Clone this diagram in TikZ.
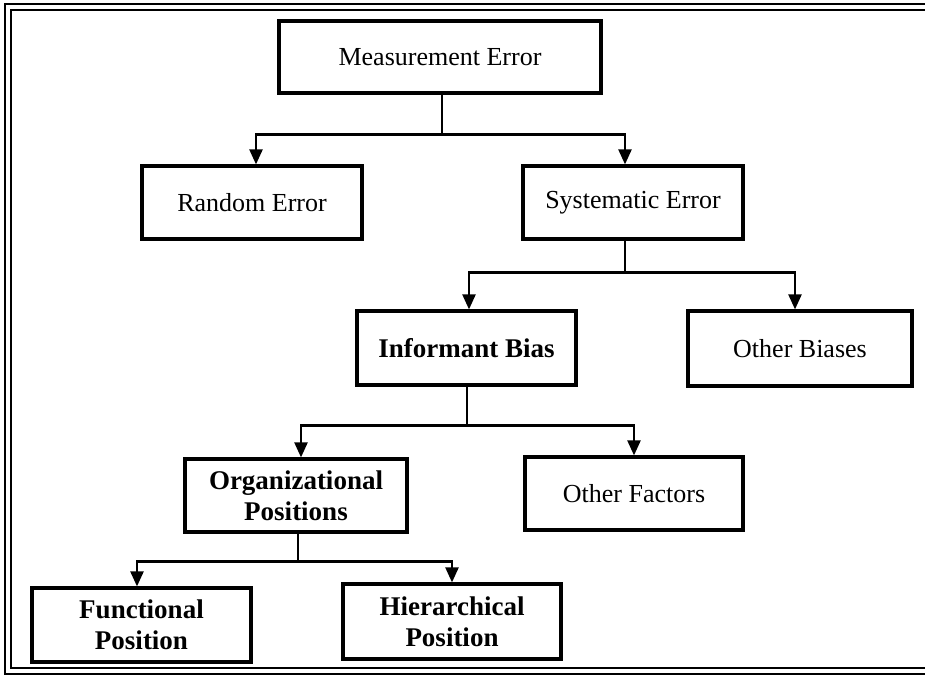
\documentclass[tikz,border=0pt]{standalone}
\usepackage{fontspec}
\setmainfont{Liberation Serif}
\usetikzlibrary{arrows.meta}
\tikzset{
  box/.style={draw=black, line width=3.2pt, align=center, inner sep=0pt,
    font=\fontsize{26pt}{30pt}\selectfont},
  bbox/.style={box, font=\fontsize{27pt}{31pt}\selectfont\bfseries},
  stem/.style={draw=black, line width=1.6pt},
  arr/.style={draw=black, line width=2.3pt, -{Triangle[length=15pt,width=13pt]}},
  frameline/.style={draw=black, line width=2pt}
}
\begin{document}
\begin{tikzpicture}[x=1pt,y=-1pt]
\useasboundingbox (0,0) rectangle (925,677);
% frame
\draw[frameline] (925,4) -- (5,4) -- (5,674) -- (925,674);
\draw[frameline] (925,10) -- (11,10) -- (11,668) -- (925,668);
% boxes
\node[box, minimum width=322pt, minimum height=72pt] (me) at (440,57) {Measurement Error};
\node[box, minimum width=220pt, minimum height=73pt] (re) at (252,202.5) {Random Error};
\node[box, minimum width=220pt, minimum height=73pt] (se) at (633,202.5) {Systematic Error};
\node[bbox, minimum width=219pt, minimum height=74pt] (ib) at (466.5,348) {Informant Bias};
\node[box, minimum width=224pt, minimum height=75pt] (ob) at (800,348.5) {Other Biases};
\node[bbox, minimum width=222pt, minimum height=73pt] (op) at (296,495.5) {Organizational\\Positions};
\node[box, minimum width=218pt, minimum height=73pt] (of) at (634,493.5) {Other Factors};
\node[bbox, minimum width=219pt, minimum height=74pt] (fp) at (141.5,625) {Functional\\Position};
\node[bbox, minimum width=218pt, minimum height=75pt] (hp) at (452,621.5) {Hierarchical\\Position};
% connectors
\draw[stem] ([xshift=2pt]me.south) -- ++(0,40) coordinate (j1);
\draw[arr] (j1) -| ([xshift=4pt]re.north);
\draw[arr] (j1) -| ([xshift=-8pt]se.north);
\draw[stem] ([xshift=-8pt]se.south) -- ++(0,32) coordinate (j2);
\draw[arr] (j2) -| ([xshift=2.5pt]ib.north);
\draw[arr] (j2) -| ([xshift=-5pt]ob.north);
\draw[stem] ([xshift=0.5pt]ib.south) -- ++(0,39) coordinate (j3);
\draw[arr] (j3) -| ([xshift=5pt]op.north);
\draw[arr] (j3) -| (of.north);
\draw[stem] ([xshift=2pt]op.south) -- ++(0,28) coordinate (j4);
\draw[arr] (j4) -| ([xshift=-4.5pt]fp.north);
\draw[arr] (j4) -| (hp.north);
\end{tikzpicture}
\end{document}
